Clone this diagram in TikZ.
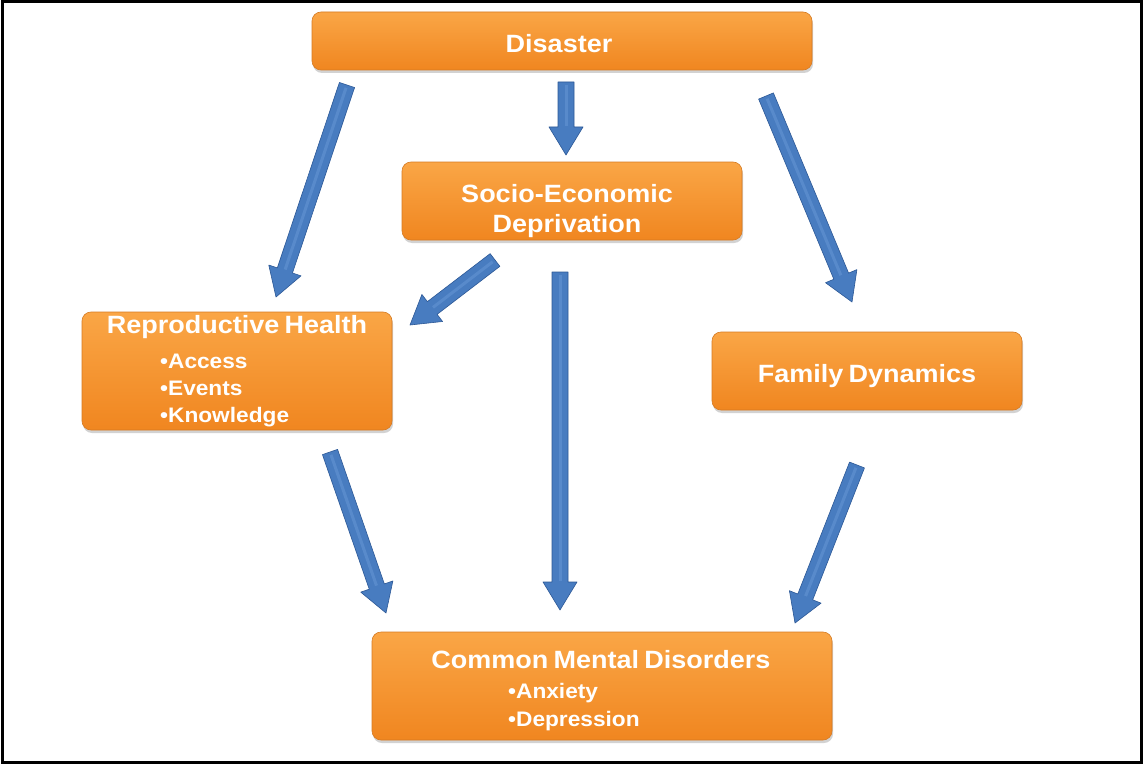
\documentclass[tikz,border=0pt]{standalone}
\usepackage{fontspec}
\setmainfont{Liberation Sans}[FakeStretch=1.08, WordSpace=0.7]
\usetikzlibrary{calc,shadows}
\definecolor{orL}{RGB}{250,166,70}
\definecolor{orD}{RGB}{240,134,32}
\definecolor{orB}{RGB}{214,122,34}
\definecolor{arF}{RGB}{72,124,192}
\definecolor{arL}{RGB}{120,166,224}
\definecolor{arB}{RGB}{44,88,150}
\tikzset{
 box/.style={rectangle, rounded corners=9pt, top color=orL, bottom color=orD, draw=orB, line width=0.6pt, inner sep=0pt,
   drop shadow={opacity=0.35, shadow xshift=1pt, shadow yshift=-3pt}},
 ttl/.style={text=white, font=\bfseries\fontsize{25}{30}\selectfont, anchor=base, inner sep=0pt},
 bul/.style={text=white, font=\bfseries\fontsize{21}{28}\selectfont, anchor=base west, inner sep=0pt},
 barrow/.style={fill=arF, draw=arB, line width=0.6pt, line join=round},
 bhl/.style={draw=arL, line width=3pt, opacity=0.35}
}
\newcommand\blockarrow[2]{%
  \path ($(#2)!28pt!(#1)$) coordinate (bh);
  \draw[barrow] ($(#1)!8pt!90:(#2)$) -- ($(bh)!8pt!90:(#2)$) -- ($(bh)!17pt!90:(#2)$) -- (#2)
     -- ($(bh)!17pt!-90:(#2)$) -- ($(bh)!8pt!-90:(#2)$) -- ($(#1)!8pt!-90:(#2)$) -- cycle;
  \draw[bhl] ($(#1)!3pt!(bh)$) -- ($(bh)!1pt!(#1)$);
}
\begin{document}
\begin{tikzpicture}[x=1pt,y=-1pt]
\useasboundingbox (0,0) rectangle (1145,765);
\fill[white] (0,0) rectangle (1145,765);
\draw[line width=3pt] (2,2) rectangle (1141,762);

% boxes
\node[box, minimum width=500pt, minimum height=58pt] (dis) at (562,41) {};
\node[box, minimum width=340pt, minimum height=78pt] (soc) at (572,201) {};
\node[box, minimum width=310pt, minimum height=118pt] (rep) at (237,371) {};
\node[box, minimum width=310pt, minimum height=78pt] (fam) at (867,371) {};
\node[box, minimum width=460pt, minimum height=108pt] (cmd) at (602,686) {};

% texts
\node[ttl] (dist) at (559,53) {Disaster};
\node[ttl] (soct1) at (567,202) {Socio-Economic};
\node[ttl] (soct2) at (567,232) {Deprivation};
\node[ttl] (rept) at (237,333) {Reproductive Health};
\node[bul] (repb1) at (160,368) {•Access};
\node[bul] (repb2) at (160,395) {•Events};
\node[bul] (repb3) at (160,422) {•Knowledge};
\node[ttl] (famt) at (867,382) {Family Dynamics};
\node[ttl] (cmdt) at (601,668) {Common Mental Disorders};
\node[bul] (cmdb1) at (508,698) {•Anxiety};
\node[bul] (cmdb2) at (508,726) {•Depression};

% arrow end points
\coordinate (a1s) at (347,85);  \coordinate (a1e) at (276,297);
\coordinate (a2s) at (566,82);  \coordinate (a2e) at (566,155);
\coordinate (a3s) at (766,96);  \coordinate (a3e) at (852,302);
\coordinate (a4s) at (495,260); \coordinate (a4e) at (410,325);
\coordinate (a5s) at (560,272); \coordinate (a5e) at (560,610);
\coordinate (a6s) at (330,452); \coordinate (a6e) at (386,613);
\coordinate (a7s) at (857,465); \coordinate (a7e) at (795,623);

\blockarrow{a1s}{a1e}
\blockarrow{a2s}{a2e}
\blockarrow{a3s}{a3e}
\blockarrow{a4s}{a4e}
\blockarrow{a5s}{a5e}
\blockarrow{a6s}{a6e}
\blockarrow{a7s}{a7e}
\end{tikzpicture}
\end{document}
